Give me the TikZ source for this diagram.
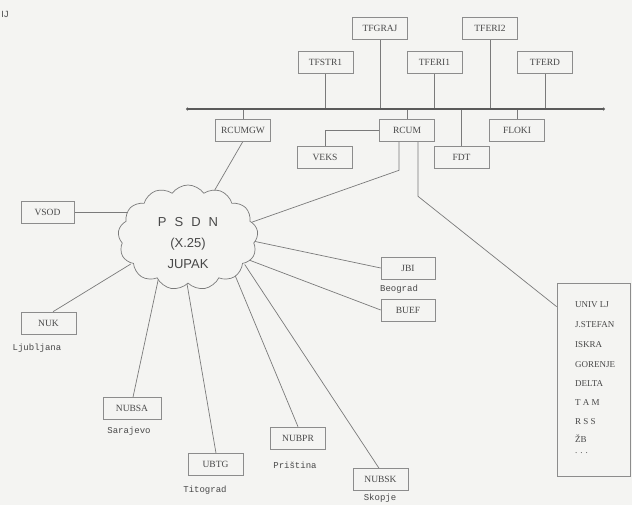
\documentclass[tikz,border=0pt]{standalone}
\usepackage{fontspec}
\setmainfont{Liberation Serif}
\newfontfamily\monof{Liberation Mono}
\newfontfamily\sansf{Liberation Sans}
\usetikzlibrary{shapes.symbols,backgrounds,calc}
\definecolor{bg}{HTML}{F4F4F2}
\definecolor{ln}{HTML}{7A7A7A}
\definecolor{bx}{HTML}{8C8C8C}
\definecolor{tx}{HTML}{484848}
\definecolor{busc}{HTML}{5A5A5A}
\begin{document}
\begin{tikzpicture}[x=1pt,y=-1pt,
  box/.style={draw=bx, fill=bg, minimum width=55pt, minimum height=22pt, inner sep=0pt,
              font=\fontsize{9.5}{10}\selectfont, text=tx, line width=0.6pt},
  conn/.style={draw=ln, line width=0.7pt},
  city/.style={font=\monof\fontsize{9}{10}\selectfont, text=tx, inner sep=0pt},
  item/.style={anchor=west, font=\fontsize{9}{10}\selectfont, text=tx, inner sep=0pt}]
\useasboundingbox (0,0) rectangle (632,505);

% top stations
\node[box] (TFGRAJ) at (380,28) {TFGRAJ};
\node[box] (TFERI2) at (490,28) {TFERI2};
\node[box] (TFSTR1) at (325.5,62) {TFSTR1};
\node[box] (TFERI1) at (434.5,62) {TFERI1};
\node[box] (TFERD) at (545,62) {TFERD};
% below bus
\node[box] (RCUMGW) at (243,130) {RCUMGW};
\node[box] (RCUM) at (407,130) {RCUM};
\node[box] (FLOKI) at (517,130) {FLOKI};
\node[box] (VEKS) at (325,157.5) {VEKS};
\node[box] (FDT) at (461.5,157.5) {FDT};
% around the cloud
\node[box, minimum width=53pt] (VSOD) at (47.5,212) {VSOD};
\node[box] (NUK) at (48.5,323) {NUK};
\node[box, minimum width=58pt] (NUBSA) at (132,408.5) {NUBSA};
\node[box] (UBTG) at (215.5,464.5) {UBTG};
\node[box] (NUBPR) at (298,438) {NUBPR};
\node[box] (NUBSK) at (380.5,479.5) {NUBSK};
\node[box, minimum width=54pt] (JBI) at (408,268) {JBI};
\node[box, minimum width=54pt] (BUEF) at (408,310) {BUEF};

% city labels
\node[city] (lLj) at (37,348) {Ljubljana};
\node[city] (lSa) at (129,431) {Sarajevo};
\node[city] (lTi) at (205,490) {Titograd};
\node[city] (lPr) at (295,465) {Priština};
\node[city] (lSk) at (380,498) {Skopje};
\node[city] (lBe) at (399,289) {Beograd};
\node[city, font=\sansf\fontsize{9}{10}\selectfont] (lIJ) at (5,14) {IJ};

% list box
\node[draw=bx, fill=bg, minimum width=73pt, minimum height=193pt, inner sep=0pt, line width=0.6pt] (LIST) at (593.5,379.5) {};
\node[item] (i1) at (575,305) {UNIV LJ};
\node[item] (i2) at (575,325) {J.STEFAN};
\node[item] (i3) at (575,345) {ISKRA};
\node[item] (i4) at (575,365) {GORENJE};
\node[item] (i5) at (575,384) {DELTA};
\node[item] (i6) at (575,403) {T A M};
\node[item] (i7) at (575,422) {R S S};
\node[item] (i8) at (575,439) {ŽB};
\node[item] (i9) at (575,453) {. . .};

% cloud
\node[cloud, draw=ln, fill=bg, line width=0.7pt, cloud puffs=13, cloud puff arc=110,
      cloud ignores aspect, minimum width=140pt, minimum height=105pt, inner sep=0pt] (PSDN) at (188,237.5) {};
\node[align=center, text=tx, font=\sansf\fontsize{13}{21}\selectfont, inner sep=0pt] (PSDNtxt) at (188,243)
  {P\hspace{8pt}S\hspace{8pt}D\hspace{8pt}N\\(X.25)\\JUPAK};

% attachment points inside cloud border
\coordinate (c1) at (205.5,206);
\coordinate (c2) at (243.9,225);
\coordinate (c3) at (152,212);
\coordinate (c4) at (130.8,264);
\coordinate (c5) at (159,276);
\coordinate (c6) at (185.5,275);
\coordinate (c7) at (232,268);
\coordinate (c8) at (244.7,264.5);
\coordinate (c9) at (243.3,239);
\coordinate (c10) at (249,260);

% bus
\coordinate (busL) at (187.5,109);
\coordinate (busR) at (603.5,109);

\begin{scope}[on background layer]
  \fill[bg] (0,0) rectangle (632,505);
  \draw[conn] (TFGRAJ.south) -- (TFGRAJ.south |- busL);
  \draw[conn] (TFERI2.south) -- (TFERI2.south |- busL);
  \draw[conn] (TFSTR1.south) -- (TFSTR1.south |- busL);
  \draw[conn] (TFERI1.south) -- (TFERI1.south |- busL);
  \draw[conn] (TFERD.south) -- (TFERD.south |- busL);
  \draw[conn] (RCUMGW.north) -- (RCUMGW.north |- busL);
  \draw[conn] (RCUM.north) -- (RCUM.north |- busL);
  \draw[conn] (FLOKI.north) -- (FLOKI.north |- busL);
  \draw[conn] (FDT.north) -- (FDT.north |- busL);
  \draw[conn] (VEKS.north) |- (RCUM.west);
  \draw[conn] (RCUMGW.south) -- (c1);
  \draw[conn] ([xshift=-8pt]RCUM.south) -- ++(0,29) -- (c2);
  \draw[conn] ([xshift=11pt]RCUM.south) -- ++(0,55) -- ([yshift=-24pt]LIST.north west);
  \draw[conn] (VSOD.east) -- (c3);
  \draw[conn] ([xshift=4.5pt]NUK.north) -- (c4);
  \draw[conn] ([xshift=1pt]NUBSA.north) -- (c5);
  \draw[conn] ([xshift=0.5pt]UBTG.north) -- (c6);
  \draw[conn] (NUBPR.north) -- (c7);
  \draw[conn] ([xshift=-1.5pt]NUBSK.north) -- (c8);
  \draw[conn] (JBI.west) -- (c9);
  \draw[conn] (BUEF.west) -- (c10);
\end{scope}

\draw[busc, line width=1.8pt] (busL) -- (busR);
\fill[busc] (busL) circle (1.7pt);
\fill[busc] (busR) circle (1.7pt);
\end{tikzpicture}
\end{document}
